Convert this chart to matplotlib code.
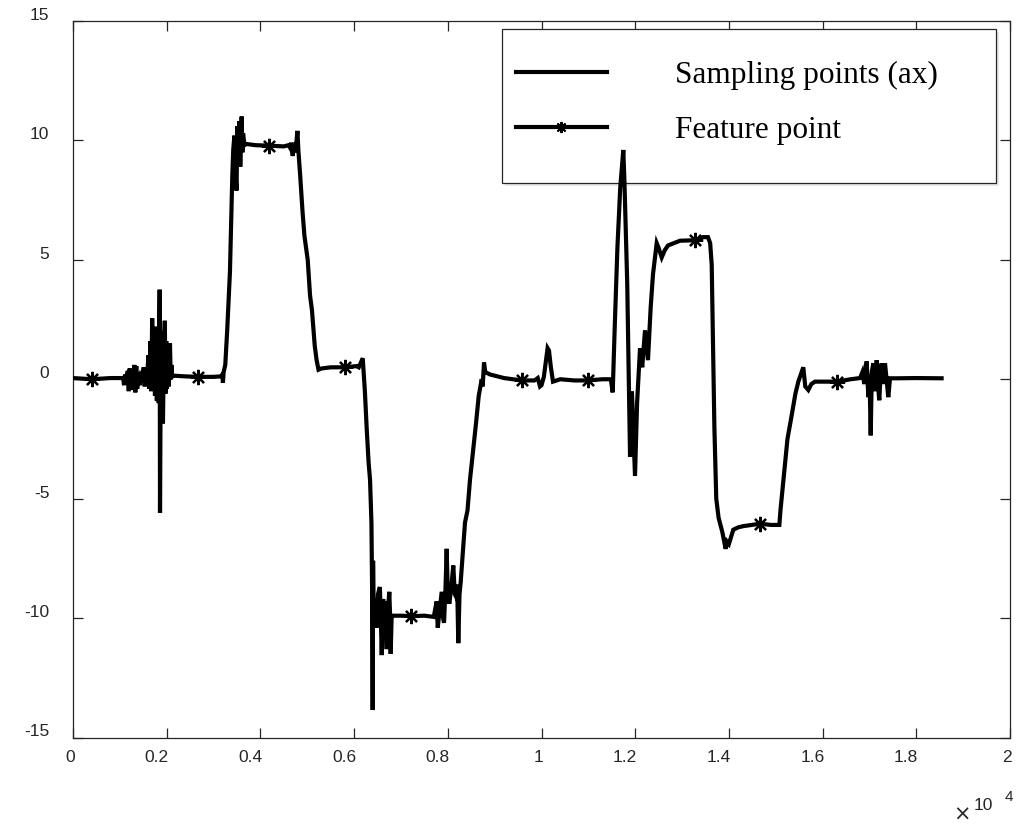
import matplotlib
matplotlib.use("Agg")
import matplotlib.pyplot as plt
from matplotlib.lines import Line2D
from matplotlib.patches import Rectangle
from matplotlib.transforms import ScaledTranslation

# ---- data (x in samples, y in value) ----
sample_x = [0, 400, 800, 1060,
            1070, 1090, 1110, 1140, 1170, 1190, 1210, 1230, 1250, 1280, 1310, 1330, 1350, 1370,
            1395, 1420, 1450, 1480, 1510, 1530, 1550, 1580,
            1610, 1630, 1650, 1670, 1690, 1710, 1730, 1750, 1770, 1790, 1810, 1830, 1850, 1857,
            1875, 1890, 1905, 1920, 1940, 1960, 1975, 1990, 2005, 2020, 2040, 2070, 2085, 2100, 2115,
            2150, 2400, 2670, 3000, 3150, 3190, 3200, 3215,
            3250, 3290, 3350, 3400, 3420, 3445, 3470, 3490, 3510, 3530, 3550, 3570, 3600, 3615,
            3630, 3660, 3700,
            3900, 4185, 4500, 4600,
            4630, 4660, 4690, 4720, 4750, 4790, 4810,
            4850, 4900, 4940, 5010, 5060, 5100, 5160, 5200, 5240, 5300,
            5500, 5806, 6050, 6100, 6184, 6200,
            6230, 6270, 6310, 6340, 6370, 6385, 6397, 6405, 6415,
            6445, 6480, 6510, 6550, 6570, 6590, 6620, 6640, 6660, 6696, 6725, 6751, 6770, 6781,
            6800, 6824,
            7000, 7215, 7500, 7700,
            7763, 7785, 7830, 7870, 7900, 7919, 7950, 7976, 8000, 8032, 8080, 8117, 8150, 8175,
            8200, 8224, 8250, 8275,
            8330, 8367, 8420, 8474, 8540, 8602, 8660, 8724, 8745, 8773, 8800,
            8900, 9200, 9577,
            9850, 9920, 9968, 10000, 10050, 10130, 10160, 10200, 10246, 10400, 10700, 10985, 11300,
            11480, 11520,
            11560, 11620, 11680, 11720, 11746, 11770,
            11830, 11890, 11930, 11996, 12040, 12103, 12150, 12209, 12273, 12330, 12380, 12459,
            12500, 12566, 12630, 12700, 12956, 13276, 13450, 13554, 13600,
            13633, 13690, 13730, 13780, 13860, 13930, 13960, 14000, 14094, 14200, 14308, 14664,
            14900, 15077,
            15100, 15170, 15250, 15341, 15420, 15482, 15588, 15630, 15695, 15760, 15838, 16300, 16600,
            16800, 16850, 16890, 16941, 16976, 17000, 17027, 17050, 17082, 17110, 17155, 17185,
            17210, 17240, 17261, 17290, 17332, 17370, 17402, 17439, 17600, 18000, 18540]

sample_y = [0.05, 0.0, 0.05, 0.05,
            0.05, -0.25, 0.2, 0.05, 0.35, -0.5, 0.45, -0.45, 0.3, -0.1, 0.6, -0.55, 0.55, -0.4,
            0.3, -0.25, 0.15, 0.05, 0.5, -0.3, 0.3, 0.0,
            1.0, -0.4, 1.6, -0.5, 2.55, -0.3, 1.8, -0.7, 2.2, -0.9, 1.5, -1.0, 3.75, -5.6,
            1.2, -1.2, 2.0, -1.85, 1.3, 2.45, -0.6, 1.6, -0.4, 1.0, -0.3, 1.5, 0.0, 0.6, 0.1,
            0.15, 0.12, 0.1, 0.1, 0.12, 0.2, -0.15, 0.3,
            0.6, 2.0, 4.5, 8.5, 9.6, 10.2, 8.6, 7.9, 10.6, 9.0, 10.8, 8.9, 11.0, 9.5,
            10.3, 9.8, 9.85,
            9.8, 9.78, 9.75, 9.8,
            9.7, 9.9, 9.35, 9.9, 9.5, 10.4, 9.6,
            8.5, 7.0, 6.0, 5.0, 3.5, 2.9, 1.4, 0.8, 0.4, 0.45,
            0.5, 0.5, 0.55, 0.5, 0.88, 0.4,
            -0.5, -2.1, -3.5, -4.2, -6.0, -9.0, -13.85, -7.6, -9.5,
            -9.2, -10.4, -9.0, -8.7, -10.0, -11.55, -9.2, -10.6, -9.3, -11.3, -9.6, -8.9, -10.0, -11.5,
            -10.0, -9.9,
            -9.9, -9.92, -9.9, -9.95,
            -9.3, -10.4, -9.6, -8.9, -10.0, -10.2, -8.8, -7.1, -9.0, -9.4, -8.6, -7.8, -9.0, -9.1,
            -8.6, -11.05, -9.0, -8.5,
            -7.0, -6.0, -5.5, -4.2, -3.0, -1.85, -0.7, 0.0, -0.3, 0.7, 0.3,
            0.2, 0.05, -0.05,
            -0.05, 0.05, -0.3, -0.25, 0.1, 1.3, 1.2, 0.5, -0.1, 0.0, -0.05, -0.05, 0.0,
            0.0, -0.55,
            2.0, 5.5, 8.0, 9.0, 9.6, 8.3,
            4.0, -3.25, -0.5, -4.05, -1.0, 1.3, 0.5, 2.05, 0.8, 3.0, 4.4, 5.7,
            5.5, 5.1, 5.4, 5.6, 5.8, 5.82, 5.95, 5.95, 5.7,
            4.8, -2.0, -5.0, -5.8, -6.4, -7.1, -6.8, -6.9, -6.3, -6.2, -6.15, -6.05,
            -6.1, -6.1,
            -5.5, -4.1, -2.5, -1.5, -0.6, -0.1, 0.5, -0.3, -0.45, -0.2, -0.1, -0.1, 0.0,
            0.05, 0.3, -0.2, 0.75, -0.75, 0.2, -2.35, 0.3, 0.67, -0.5, 0.8, -0.3,
            -0.88, 0.3, 0.67, -0.2, 0.67, -0.1, -0.75, 0.04, 0.04, 0.05, 0.04]

feature_x = [405, 2670, 4185, 5806, 7215, 9577, 10985, 13276, 14664, 16300]
feature_y = [0.0, 0.1, 9.78, 0.5, -9.92, -0.05, -0.05, 5.82, -6.05, -0.1]

xtick_vals = [0, 2000, 4000, 6000, 8000, 10000, 12000, 14000, 16000, 18000, 20000]
xtick_labels = ['0', '0.2', '0.4', '0.6', '0.8', '1', '1.2', '1.4', '1.6', '1.8', '2']
ytick_vals = [-15, -10, -5, 0, 5, 10, 15]
ytick_labels = ['-15', '-10', '-5', '0', '5', '10', '15']

legend_labels = ['Sampling points (ax)', 'Feature point']

# ---- figure ----
W, H = 1033, 826
fig = plt.figure(figsize=(W / 100, H / 100), dpi=100)
AX_L, AX_R, AX_T, AX_B = 73, 1010, 21, 737.5
ax = fig.add_axes([AX_L / W, 1 - AX_B / H, (AX_R - AX_L) / W, (AX_B - AX_T) / H])

asterisk = (8, 2, 0)
ax.plot(sample_x, sample_y, color='black', lw=3.0, solid_joinstyle='miter', zorder=3)
ax.plot(feature_x, feature_y, linestyle='none', marker=asterisk, markersize=11,
        markeredgewidth=1.6, color='black', zorder=4)

ax.set_xlim(0, 20000)
ax.set_ylim(-15, 15)
ax.set_xticks(xtick_vals)
ax.set_xticklabels(xtick_labels)
ax.set_yticks(ytick_vals)
ax.set_yticklabels(ytick_labels)

axcol = '#262626'
for s in ax.spines.values():
    s.set_color(axcol)
    s.set_linewidth(0.9)
ax.tick_params(direction='in', length=7, width=0.9, color=axcol,
               top=True, right=True, labelsize=12.5, labelcolor=axcol)
ax.tick_params(axis='x', pad=9)
ax.tick_params(axis='y', pad=17)

for lab in ax.get_xticklabels():
    lab.set_fontfamily('Liberation Sans')
    lab.set_horizontalalignment('right')
    lab.set_transform(lab.get_transform() + ScaledTranslation(2 / 100, 0, fig.dpi_scale_trans))
for lab in ax.get_yticklabels():
    lab.set_fontfamily('Liberation Sans')
    lab.set_transform(lab.get_transform() + ScaledTranslation(0, 7 / 100, fig.dpi_scale_trans))

# exponent label
fig.text(962 / W, 1 - 815 / H, '\u00d7', fontsize=15, family='DejaVu Sans', color=axcol,
         ha='center', va='center')
fig.text(983 / W, 1 - 806 / H, '10', fontsize=12.5, family='Liberation Sans', color=axcol,
         ha='center', va='center')
fig.text(1009 / W, 1 - 797 / H, '4', fontsize=11, family='Liberation Sans', color=axcol,
         ha='center', va='center')

# legend box (drawn as a patch, below the data line) + legend contents
bx0, bx1, by0, by1 = 501.7, 995.7, 29, 183
shadow = Rectangle((bx0 / W + 3 / W, 1 - by1 / H - 3 / H), (bx1 - bx0) / W, (by1 - by0) / H,
                   transform=fig.transFigure, facecolor='#e4e9ef', edgecolor='none',
                   zorder=1.5, clip_on=False)
box = Rectangle((bx0 / W, 1 - by1 / H), (bx1 - bx0) / W, (by1 - by0) / H,
                transform=fig.transFigure, facecolor='white', edgecolor=axcol, lw=0.9,
                zorder=2, clip_on=False)
ax.add_patch(shadow)
ax.add_patch(box)

handles = [Line2D([], [], color='black', lw=3.0),
           Line2D([], [], color='black', lw=3.0, marker=asterisk, markersize=8,
                  markeredgewidth=1.4)]
cont_left, cont_top = 516, 61
leg = ax.legend(handles, legend_labels, loc='upper left',
                bbox_to_anchor=((cont_left - AX_L) / (AX_R - AX_L),
                                (AX_B - cont_top) / (AX_B - AX_T)),
                prop={'family': 'Liberation Serif', 'size': 22.5},
                handlelength=2.9, handletextpad=2.2, borderpad=0, labelspacing=0.84,
                borderaxespad=0, frameon=False)
leg.set_zorder(10)

fig.savefig('out.png', dpi=100)
